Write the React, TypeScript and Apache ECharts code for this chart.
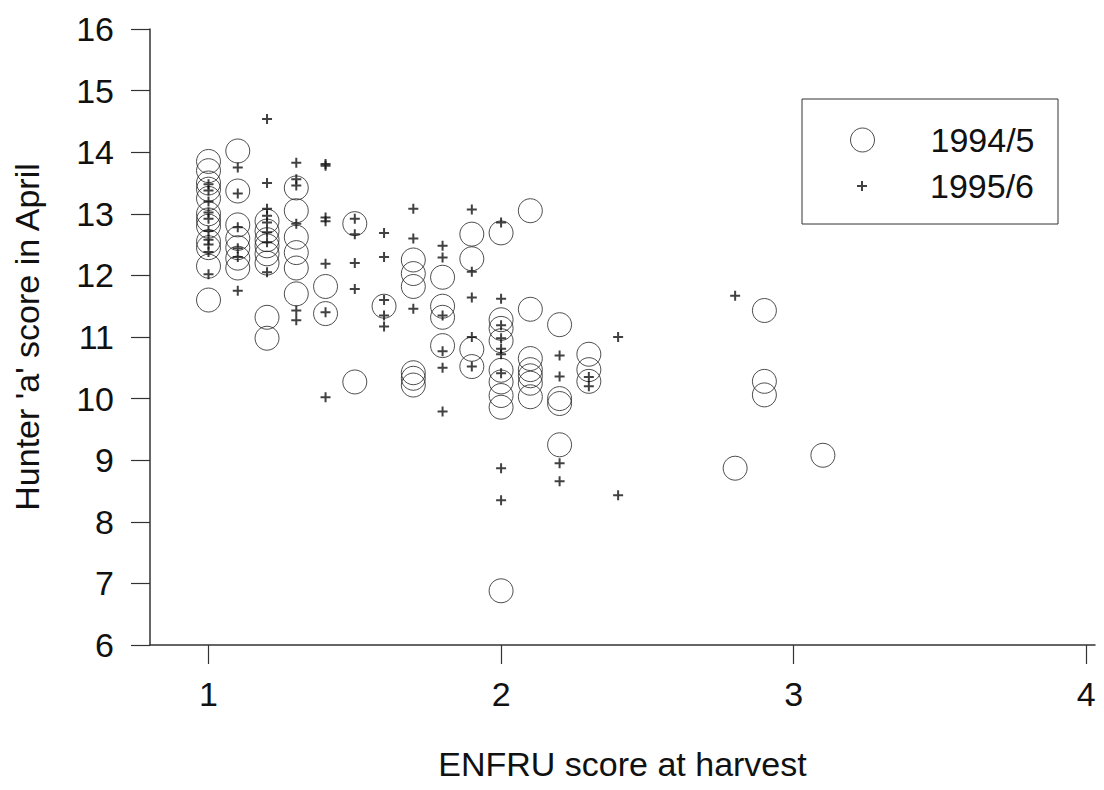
import React, { useEffect, useRef } from "react";
import * as echarts from "echarts";

// 1994/5 (circles): ENFRU score and Hunter 'a' score
const enfru1994 = [
  1.0, 1.0, 1.0, 1.0, 1.0, 1.0, 1.0, 1.0, 1.0, 1.0, 1.0, 1.0,
  1.1, 1.1, 1.1, 1.1, 1.1, 1.1, 1.1,
  1.2, 1.2, 1.2, 1.2, 1.2, 1.2, 1.2, 1.2,
  1.3, 1.3, 1.3, 1.3, 1.3, 1.3,
  1.4, 1.4,
  1.5, 1.5,
  1.6,
  1.7, 1.7, 1.7, 1.7, 1.7, 1.7,
  1.8, 1.8, 1.8, 1.8,
  1.9, 1.9, 1.9, 1.9,
  2.0, 2.0, 2.0, 2.0, 2.0, 2.0, 2.0, 2.0, 2.0,
  2.1, 2.1, 2.1, 2.1, 2.1, 2.1, 2.1,
  2.2, 2.2, 2.2, 2.2,
  2.3, 2.3, 2.3,
  2.8,
  2.9, 2.9, 2.9,
  3.1,
];
const hunter1994 = [
  13.85, 13.7, 13.5, 13.4, 13.25, 13.0, 12.9, 12.8, 12.55, 12.45, 12.15, 11.6,
  14.02, 13.37, 12.82, 12.6, 12.45, 12.28, 12.12,
  12.88, 12.72, 12.58, 12.48, 12.35, 12.2, 11.32, 10.98,
  13.42, 13.05, 12.62, 12.37, 12.12, 11.7,
  11.82, 11.38,
  12.84, 10.27,
  11.5,
  12.25, 12.03, 11.82, 10.42, 10.33, 10.22,
  11.97, 11.5, 11.32, 10.86,
  12.67, 12.27, 10.8, 10.52,
  12.69, 11.28, 11.14, 10.94, 10.46, 10.27, 10.05, 9.86, 6.88,
  13.05, 11.45, 10.65, 10.47, 10.37, 10.25, 10.03,
  11.2, 10.0, 9.92, 9.25,
  10.72, 10.47, 10.28,
  8.87,
  11.43, 10.28, 10.06,
  9.08,
];

// 1995/6 (plus signs)
const enfru1995 = [
  1.0, 1.0, 1.0, 1.0, 1.0, 1.0, 1.0, 1.0, 1.0, 1.0,
  1.1, 1.1, 1.1, 1.1, 1.1, 1.1,
  1.2, 1.2, 1.2, 1.2, 1.2, 1.2, 1.2, 1.2,
  1.3, 1.3, 1.3, 1.3, 1.3, 1.3,
  1.4, 1.4, 1.4, 1.4, 1.4, 1.4, 1.4,
  1.5, 1.5, 1.5, 1.5,
  1.6, 1.6, 1.6, 1.6, 1.6,
  1.7, 1.7, 1.7,
  1.8, 1.8, 1.8, 1.8, 1.8, 1.8,
  1.9, 1.9, 1.9, 1.9, 1.9,
  2.0, 2.0, 2.0, 2.0, 2.0, 2.0, 2.0, 2.0, 2.0,
  2.2, 2.2, 2.2, 2.2,
  2.3, 2.3,
  2.4, 2.4,
  2.8,
];
const hunter1995 = [
  13.48, 13.38, 13.2, 13.02, 12.92, 12.72, 12.58, 12.5, 12.38, 12.02,
  13.75, 13.33, 12.78, 12.44, 12.3, 11.75,
  14.54, 13.5, 13.08, 12.97, 12.86, 12.7, 12.54, 12.05,
  13.83, 13.56, 13.46, 12.84, 11.43, 11.27,
  13.81, 13.78, 12.94, 12.88, 12.19, 11.4, 10.02,
  12.92, 12.67, 12.2, 11.78,
  12.69, 12.3, 11.6, 11.35, 11.17,
  13.08, 12.6, 11.46,
  12.48, 12.29, 11.35, 10.77, 10.5, 9.79,
  13.07, 12.06, 11.64, 11.0, 10.52,
  12.86, 11.62, 11.19, 10.98, 10.81, 10.72, 10.41, 8.87, 8.35,
  10.7, 10.36, 8.95, 8.66,
  10.35, 10.2,
  11.0, 8.43,
  11.67,
];

const xTicks = [1, 2, 3, 4];
const seriesNames = ["1994/5", "1995/6"];

const PLUS = "path://M4,0H6V4H10V6H6V10H4V6H0V4H4Z";
const FONT = "'Liberation Sans', Arial, Helvetica, sans-serif";

export default function App() {
  const ref = useRef<HTMLDivElement>(null);
  useEffect(() => {
    if (!ref.current) return;
    const chart = echarts.init(ref.current, null, { renderer: "svg" });
    const d1 = enfru1994.map((x, i) => [x, hunter1994[i]]);
    const d2 = enfru1995.map((x, i) => [x, hunter1995[i]]);
    chart.setOption({
      animation: false,
      backgroundColor: "#ffffff",
      textStyle: { fontFamily: FONT, color: "#111" },
      grid: { left: 150, right: 9, top: 29, bottom: 145, containLabel: false },
      xAxis: {
        type: "value",
        min: 0.8,
        max: 4.03,
        name: "ENFRU score at harvest",
        nameLocation: "middle",
        nameGap: 102,
        nameTextStyle: { fontSize: 34, color: "#111", fontFamily: FONT },
        axisLine: { show: true, onZero: false, lineStyle: { color: "#333", width: 1.5 } },
        axisTick: { show: true, inside: false, length: 19, customValues: xTicks, lineStyle: { color: "#333", width: 1.2 } },
        axisLabel: { customValues: xTicks, fontSize: 34, color: "#111", margin: 32, fontFamily: FONT },
        splitLine: { show: false },
      },
      yAxis: {
        type: "value",
        min: 6,
        max: 16,
        interval: 1,
        name: "Hunter 'a' score in April",
        nameLocation: "middle",
        nameGap: 106,
        nameTextStyle: { fontSize: 34, color: "#111", fontFamily: FONT },
        axisLine: { show: true, onZero: false, lineStyle: { color: "#333", width: 1.5 } },
        axisTick: { show: true, inside: false, length: 19, lineStyle: { color: "#333", width: 1.2 } },
        axisLabel: { fontSize: 34, color: "#111", margin: 36, fontFamily: FONT },
        splitLine: { show: false },
      },
      legend: [
        {
          data: [seriesNames[0]],
          orient: "vertical",
          left: 850,
          top: 123,
          padding: 0,
          itemWidth: 24,
          itemHeight: 24,
          icon: "circle",
          itemStyle: { color: "transparent", borderColor: "#222", borderWidth: 1 },
          textStyle: { fontSize: 34, lineHeight: 34, color: "#111", fontFamily: FONT, padding: [0, 0, 0, 51] },
        },
        {
          data: [seriesNames[1]],
          orient: "vertical",
          left: 857,
          top: 169,
          padding: 0,
          itemWidth: 10,
          itemHeight: 10,
          icon: PLUS,
          itemStyle: { color: "#111", borderWidth: 0 },
          textStyle: { fontSize: 34, lineHeight: 34, color: "#111", fontFamily: FONT, padding: [0, 0, 0, 58] },
        },
      ],
      graphic: [
        {
          type: "rect",
          shape: { x: 802, y: 99, width: 256, height: 125 },
          style: { fill: "none", stroke: "#333", lineWidth: 1 },
          silent: true,
        },
      ],
      series: [
        {
          name: seriesNames[0],
          type: "scatter",
          data: d1,
          symbol: "circle",
          symbolSize: 24,
          itemStyle: { color: "transparent", borderColor: "#222", borderWidth: 1 },
          emphasis: { disabled: true },
        },
        {
          name: seriesNames[1],
          type: "scatter",
          data: d2,
          symbol: PLUS,
          symbolSize: 10,
          itemStyle: { color: "#111", borderWidth: 0 },
          emphasis: { disabled: true },
        },
      ],
    });
    return () => chart.dispose();
  }, []);
  return (
    <div
      ref={ref}
      style={{ position: "fixed", left: 0, top: 0, width: 1104, height: 790, background: "#fff" }}
    />
  );
}
